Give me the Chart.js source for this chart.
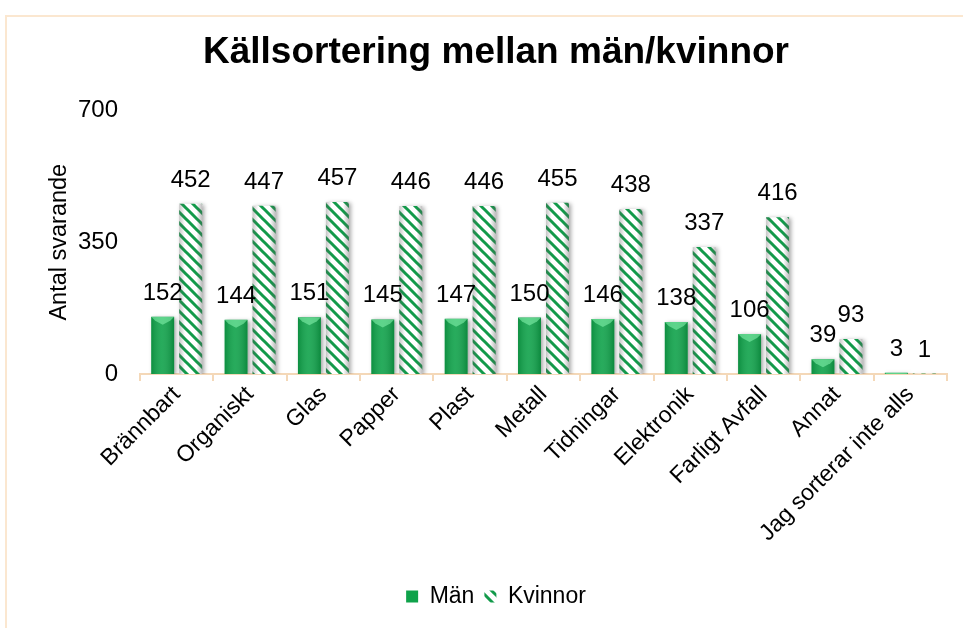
<!DOCTYPE html>
<html>
<head>
<meta charset="utf-8">
<script src="https://cdn.jsdelivr.net/npm/chart.js@4/dist/chart.umd.min.js"></script>
<style>
  body { margin: 0; overflow: hidden; background: #fff; }
  #frame { position: absolute; left: 5px; top: 15px; width: 2000px; height: 2000px; border: 2px solid #fbe7d0; }
  #wrap { position: absolute; left: 0; top: 0; width: 963px; height: 628px; }
</style>
</head>
<body>
<div id="frame"></div>
<div id="wrap"><canvas id="myChart"></canvas></div>
<script>
var categories = ["Brännbart", "Organiskt", "Glas", "Papper", "Plast", "Metall",
    "Tidningar", "Elektronik", "Farligt Avfall", "Annat", "Jag sorterar inte alls"];
var manValues = [152, 144, 151, 145, 147, 150, 146, 138, 106, 39, 3];
var kvinnorValues = [452, 447, 457, 446, 446, 455, 438, 337, 416, 93, 1];
var yTicks = [0, 350, 700];

var FONT = "'Liberation Sans', Arial, sans-serif";
var green = "#0fa24a";
var beige = "#f4d8b8";

// diagonal green/white stripes for Kvinnor
function stripes() {
    var c = document.createElement("canvas");
    c.width = 11; c.height = 11;
    var g = c.getContext("2d");
    g.fillStyle = "#ffffff";
    g.fillRect(0, 0, 11, 11);
    g.strokeStyle = "#129a4a";
    g.lineWidth = 3;
    g.beginPath();
    [-11, 0, 11].forEach(function (k) {
        g.moveTo(-2, -2 + k);
        g.lineTo(13, 13 + k);
    });
    g.stroke();
    return document.getElementById("myChart").getContext("2d").createPattern(c, "repeat");
}

// shadow under bars, bevel on top
var barLook = {
    id: "barLook",
    beforeDatasetsDraw: function (chart) {
        var ctx = chart.ctx;
        ctx.save();
        ctx.shadowColor = "rgba(0,0,0,0.35)";
        ctx.shadowBlur = 4;
        ctx.shadowOffsetX = 2;
        ctx.shadowOffsetY = 1;
    },
    afterDatasetsDraw: function (chart) {
        var ctx = chart.ctx;
        ctx.restore();
        chart.getDatasetMeta(0).data.forEach(function (el) {
            var x0 = el.x - el.width / 2, x1 = el.x + el.width / 2, top = el.y, h = el.base - el.y;
            if (h <= 0) return;
            ctx.save();
            ctx.beginPath();
            ctx.rect(x0, top, el.width, h);
            ctx.clip();
            var gr = ctx.createLinearGradient(x0, 0, x1, 0);
            gr.addColorStop(0, "rgba(0,60,20,0.2)");
            gr.addColorStop(0.45, "rgba(255,255,255,0.1)");
            gr.addColorStop(1, "rgba(0,60,20,0.25)");
            ctx.fillStyle = gr;
            ctx.fillRect(x0, top, el.width, h);
            ctx.fillStyle = "rgba(130,240,170,0.6)";
            ctx.beginPath();
            ctx.moveTo(x0, top);
            ctx.lineTo(x1, top);
            ctx.lineTo(x1 - 4, top + 4);
            ctx.lineTo(el.x, top + 8);
            ctx.lineTo(x0 + 4, top + 4);
            ctx.closePath();
            ctx.fill();
            ctx.restore();
        });
        chart.getDatasetMeta(1).data.forEach(function (el) {
            var x0 = el.x - el.width / 2, x1 = el.x + el.width / 2, top = el.y, h = el.base - el.y;
            if (h <= 0) return;
            var gr = ctx.createLinearGradient(x0, 0, x1, 0);
            gr.addColorStop(0, "rgba(90,90,90,0.35)");
            gr.addColorStop(0.25, "rgba(90,90,90,0)");
            gr.addColorStop(0.75, "rgba(90,90,90,0)");
            gr.addColorStop(1, "rgba(90,90,90,0.4)");
            ctx.fillStyle = gr;
            ctx.fillRect(x0, top, el.width, h);
        });
    }
};

// value labels above bars
var valueLabels = {
    id: "valueLabels",
    afterDatasetsDraw: function (chart) {
        var ctx = chart.ctx;
        ctx.save();
        ctx.font = "24px " + FONT;
        ctx.fillStyle = "#000";
        ctx.textAlign = "center";
        ctx.textBaseline = "alphabetic";
        chart.data.datasets.forEach(function (ds, i) {
            chart.getDatasetMeta(i).data.forEach(function (el, j) {
                ctx.fillText(ds.data[j], el.x, el.y - 17);
            });
        });
        ctx.restore();
    }
};

new Chart("myChart", {
    type: "bar",
    data: {
        labels: categories,
        datasets: [{
            label: "Män",
            data: manValues,
            backgroundColor: green,
            categoryPercentage: 0.763,
            barPercentage: 0.82
        }, {
            label: "Kvinnor",
            data: kvinnorValues,
            backgroundColor: stripes(),
            categoryPercentage: 0.763,
            barPercentage: 0.82
        }]
    },
    options: {
        responsive: true,
        maintainAspectRatio: false,
        animation: false,
        layout: { padding: { left: 45, right: 16, top: 0, bottom: 10 } },
        scales: {
            y: {
                min: 0,
                max: 700,
                afterBuildTicks: function (s) {
                    s.ticks = yTicks.map(function (v) { return { value: v }; });
                },
                afterFit: function (s) { s.width = 95; },
                grid: { display: false, drawTicks: false },
                border: { display: false },
                ticks: { padding: 22, color: "#000", font: { family: FONT, size: 24 } },
                title: {
                    display: true,
                    text: "Antal svarande",
                    color: "#000",
                    font: { family: FONT, size: 23.5 },
                    padding: { top: 0, bottom: 0 }
                }
            },
            x: {
                afterFit: function (s) { s.height = 201; },
                grid: { drawOnChartArea: false, color: beige, lineWidth: 2, tickLength: 7 },
                border: { color: beige, width: 2 },
                ticks: {
                    color: "#000",
                    font: { family: FONT, size: 23 },
                    minRotation: 45,
                    maxRotation: 45,
                    autoSkip: false,
                    padding: 0
                }
            }
        },
        plugins: {
            title: {
                display: true,
                text: "Källsortering mellan män/kvinnor",
                color: "#000",
                font: { family: FONT, size: 37, weight: "bold" },
                padding: { top: 31, bottom: 35 }
            },
            legend: {
                position: "bottom",
                labels: {
                    color: "#000",
                    boxWidth: 12,
                    boxHeight: 12,
                    padding: 10,
                    font: { family: FONT, size: 23 }
                }
            },
            tooltip: { enabled: false }
        }
    },
    plugins: [barLook, valueLabels]
});
</script>
</body>
</html>
